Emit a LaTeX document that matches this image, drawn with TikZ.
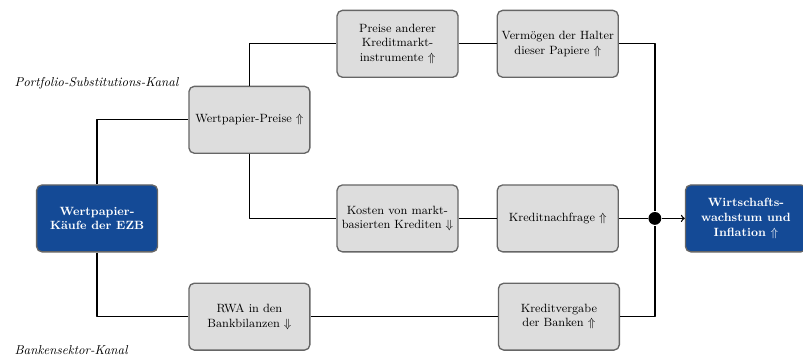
\documentclass[tikz,border=0pt]{standalone}
\definecolor{ezbblue}{RGB}{20,74,150}
\definecolor{boxgray}{RGB}{221,221,221}
\begin{document}
\begin{tikzpicture}[font=\small, line join=round, >=to,
		kette/.style={draw=gray!80!black, fill=boxgray, rounded corners=4pt, align=center, minimum width=3.2cm, minimum height=1.77cm, inner sep=2pt},
		ende/.style={kette, fill=ezbblue, text=white, font=\small\bfseries},
		kanal/.style={font=\fontsize{9.7pt}{11pt}\selectfont\itshape, anchor=base west, inner sep=0pt},
		every path/.style={line width=1pt}]
	\useasboundingbox (-2.57,-3.64) rectangle (18.68,5.78);
	% Start- und Zielknoten
	\node[ende] (ezb) at (0,0) {Wertpapier-\\K\"aufe der EZB};
	\node[ende] (wachs) at (17.17,0) {Wirtschafts-\\wachstum und\\Inflation $\Uparrow$};
	% Portfolio-Kanal
	\node[kette] (wpp) at (4.03,2.61) {Wertpapier-Preise $\Uparrow$};
	\node[kette] (pak) at (7.95,4.62) {Preise anderer\\Kreditmarkt-\\instrumente $\Uparrow$};
	\node[kette] (verm) at (12.19,4.62) {Verm\"ogen der Halter\\dieser Papiere $\Uparrow$};
	\node[kette] (kost) at (7.95,0) {Kosten von markt-\\basierten Krediten $\Downarrow$};
	\node[kette] (knf) at (12.19,0) {Kreditnachfrage $\Uparrow$};
	% Bankensektor-Kanal
	\node[kette] (rwa) at (4.03,-2.6) {RWA in den\\Bankbilanzen $\Downarrow$};
	\node[kette] (kvg) at (12.22,-2.6) {Kreditvergabe\\der Banken $\Uparrow$};
	\node[circle, fill, inner sep=0pt, minimum size=0.34cm] (knoten) at (14.76,0) {};
	\node[kanal] (pslabel) at (-2.2,3.49) {Portfolio-Substitutions-Kanal};
	\node[kanal] (bslabel) at (-2.2,-3.59) {Bankensektor-Kanal};
	\draw (ezb.north) |- (wpp.west);
	\draw (wpp.north) |- (pak.west);
	\draw (pak) -- (verm);
	\draw (verm.east) -| (knoten);
	\draw (wpp.south) |- (kost.west);
	\draw (kost) -- (knf);
	\draw (knf) -- (knoten);
	\draw[->] (knoten) -- (wachs);
	\draw (ezb.south) |- (rwa.west);
	\draw (rwa) -- (kvg);
	\draw (kvg.east) -| (knoten);
\end{tikzpicture}
\end{document}
